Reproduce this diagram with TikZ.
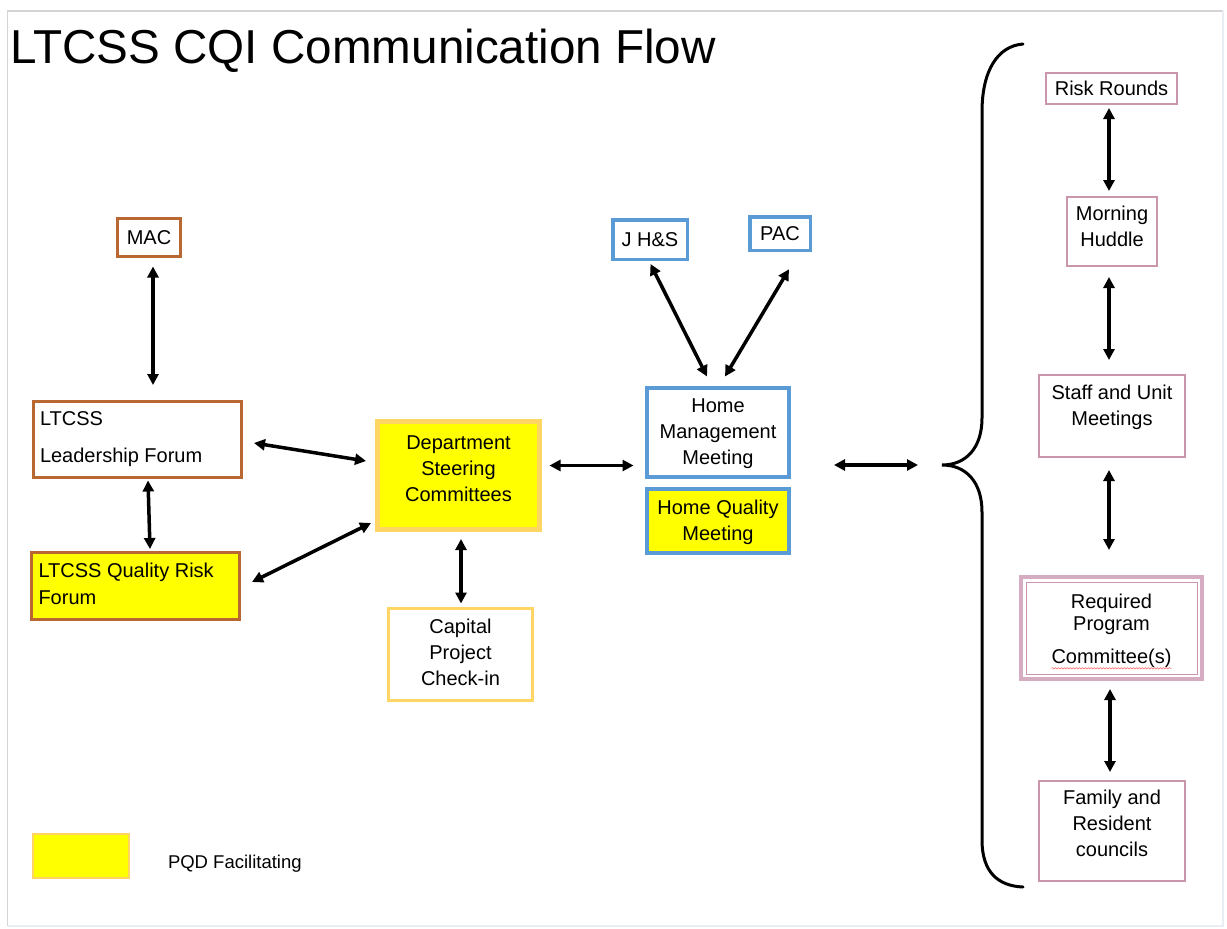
\documentclass[tikz,border=0pt]{standalone}
\usepackage{fontspec}
\setmainfont{Liberation Sans}
\usetikzlibrary{arrows.meta,calc,decorations.pathmorphing}

\definecolor{brownc}{RGB}{186,104,50}
\definecolor{goldc}{RGB}{255,214,100}
\definecolor{bluec}{RGB}{91,155,213}
\definecolor{pinkc}{RGB}{201,150,172}
\definecolor{pinkband}{RGB}{214,172,194}
\definecolor{hiyellow}{RGB}{255,255,0}
\definecolor{framegray}{RGB}{212,212,212}
\definecolor{framefaint}{RGB}{232,238,244}

\begin{document}
\begin{tikzpicture}[x=1pt,y=-1pt,
  every node/.style={inner sep=0pt, outer sep=0pt},
  txt/.style={font=\fontsize{20}{26}\selectfont, align=center},
  boxbase/.style={rectangle, draw, font=\fontsize{20}{26}\selectfont},
  brownbox/.style={boxbase, draw=brownc, line width=3pt},
  goldbox/.style={boxbase, draw=goldc, line width=3pt},
  bluebox/.style={boxbase, draw=bluec, line width=4pt},
  pinkbox/.style={boxbase, draw=pinkc, line width=2pt},
  pqd/.style={fill=hiyellow},
  arr/.style={line width=3.5pt, {Triangle[length=11pt,width=11pt]}-{Triangle[length=11pt,width=11pt]}},
  brace/.style={line width=3pt, line cap=round}
]
\useasboundingbox (0,0) rectangle (1227,929);

% slide frame
\draw[framegray, line width=1.5pt] (7.5,926) -- (7.5,11) -- (1223,11);
\draw[framefaint, line width=1.5pt] (1223,11) -- (1223,926) -- (7.5,926);

% title
\node[anchor=base west, font=\fontsize{47.6}{50}\selectfont] (title) at (10.5,63) {LTCSS CQI Communication Flow};

% leadership column
\node[brownbox, minimum width=63pt, minimum height=38pt] (mac) at (149,237.5) {MAC};
\node[brownbox, minimum width=208pt, minimum height=76pt] (ltl) at (137.5,439.5) {};
\node[txt, align=left, anchor=west] (ltl-t) at (40,439.5) {LTCSS\\[11pt]Leadership Forum};
\node[brownbox, pqd, minimum width=208pt, minimum height=67pt] (qrf) at (135.5,586) {};
\node[txt, align=left, anchor=west] (qrf-t) at (38.5,583.5) {LTCSS Quality Risk\\[1pt]Forum};

% department steering committees and capital projects
\node[boxbase, pqd, draw=goldc, line width=5pt, minimum width=162pt, minimum height=108pt] (dsc) at (458.5,475.5) {};
\node[txt] (dsc-t) at (458.5,469) {Department\\Steering\\Committees};
\node[goldbox, minimum width=144pt, minimum height=92pt] (cap) at (460.5,654.5) {};
\node[txt] (cap-t) at (460.5,652) {Capital\\Project\\Check-in};

% home level meetings
\node[bluebox, line width=3.5pt, minimum width=74.5pt, minimum height=39.5pt] (jhs) at (650,239.5) {J H\&S};
\node[bluebox, line width=3.5pt, minimum width=60.5pt, minimum height=33.5pt] (pac) at (780,233.5) {PAC};
\node[bluebox, minimum width=142pt, minimum height=89pt] (hmm) at (718,432.5) {};
\node[txt] (hmm-t) at (718,434) {Home\\Management\\Meeting};
\node[bluebox, pqd, minimum width=142pt, minimum height=64pt] (hqm) at (718,521) {};
\node[txt] (hqm-t) at (718,522) {Home Quality\\Meeting};

% unit level column
\node[pinkbox, minimum width=131.5pt, minimum height=31.5pt] (rr) at (1111.5,88.5) {Risk Rounds};
\node[pinkbox, minimum width=90.5pt, minimum height=69.5pt] (mh) at (1112,231.5) {};
\node[txt] (mh-t) at (1112,226) {Morning\\Huddle};
\node[pinkbox, minimum width=146.5pt, minimum height=82.5pt] (su) at (1112,416) {};
\node[txt] (su-t) at (1112,407) {Staff and Unit\\Meetings};
\node[boxbase, draw=pinkband, line width=4pt, minimum width=181pt, minimum height=102pt] (rp) at (1111.5,628) {};
\draw[pinkc, line width=1pt] ($(rp.north west)+(5,5)$) rectangle ($(rp.south east)+(-5,-5)$);
\node[txt] (rp-t) at (1111.5,630.5) {Required\\[-4pt]Program\\[7pt]Committee(s)};
\draw[red!55, line width=0.6pt, decorate, decoration={snake, amplitude=0.7pt, segment length=3pt}]
  ($(rp-t.south west)+(0,1)$) -- ($(rp-t.south east)+(0,1)$);
\node[pinkbox, minimum width=146.5pt, minimum height=100.5pt] (fr) at (1112,831) {};
\node[txt] (fr-t) at (1112,823) {Family and\\Resident\\councils};

% brace gathering the unit level meetings
\coordinate (tip) at (942,465);
\coordinate (btop) at (1023,44);
\coordinate (bbot) at (1023,887);
\draw[brace] (btop) .. controls (998,46) and (982,70) .. (982,112)
  -- (982,418) .. controls (982,448) and (966,465) .. (tip)
  .. controls (966,465) and (982,482) .. (982,512)
  -- (982,840) .. controls (982,872) and (998,886) .. (bbot);

% connectors
\draw[arr] ($(mac.south)+(4,10)$) -- ($(ltl.north)+(15.5,-16.5)$);
\draw[arr] ($(ltl.south)+(10.5,3)$) -- ($(qrf.north)+(14.5,-3.5)$);
\draw[arr] ($(ltl.east)+(12.5,3.5)$) -- ($(dsc.west)+(-11.5,-14.5)$);
\draw[arr] ($(qrf.east)+(12.5,-4)$) -- ($(dsc.south west)+(-6.5,-6.5)$);
\draw[arr] ($(dsc.east)+(10,-10)$) -- ($(hmm.south west)+(-13.5,-11.5)$);
\draw[arr] ($(dsc.south)+(2.5,9.5)$) -- ($(cap.north)+(0.5,-5)$);
\draw[arr] ($(jhs.south)+(0.5,4.75)$) -- ($(hmm.north)+(-11,-11.5)$);
\draw[arr] ($(pac.south)+(9,19)$) -- ($(hmm.north)+(7,-11.5)$);
\draw[arr] ($(hmm.east)+(45,32.5)$) -- ($(tip)+(-24,0)$);
\draw[arr] ($(rr.south)+(-2.5,3.75)$) -- ($(mh.north)+(-3,-5.75)$);
\draw[arr] ($(mh.south)+(-3,10.75)$) -- ($(su.north)+(-3,-14.75)$);
\draw[arr] ($(su.south)+(-3,12.75)$) -- ($(rp.north)+(-2.5,-27)$);
\draw[arr] ($(rp.south)+(-1.5,10)$) -- ($(fr.north)+(-2,-8.75)$);

% legend
\node[rectangle, fill=hiyellow, draw=goldc, line width=2pt, minimum width=96pt, minimum height=44pt] (key) at (81,856) {};
\node[anchor=base west, font=\fontsize{18.5}{22}\selectfont] (key-t) at (168,868) {PQD Facilitating};
\end{tikzpicture}
\end{document}
